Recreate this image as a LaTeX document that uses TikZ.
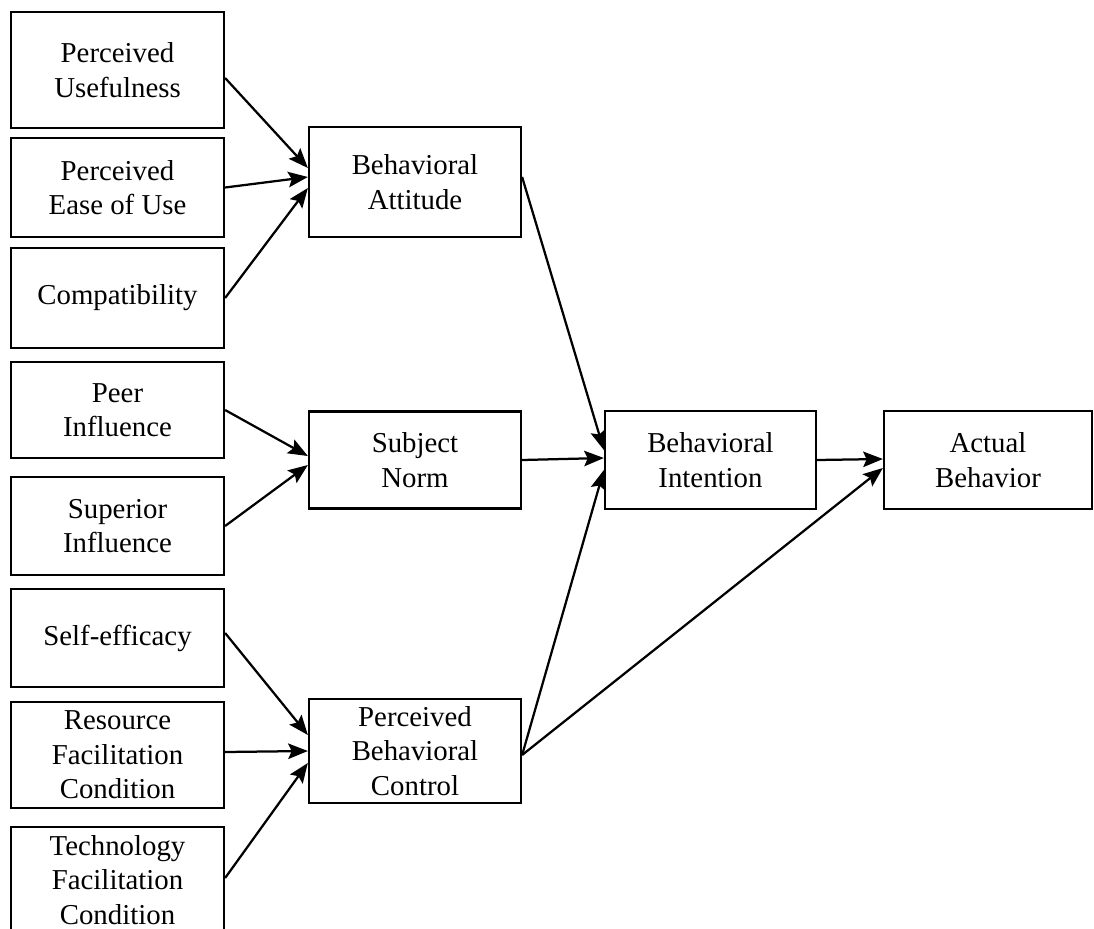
\documentclass[tikz,border=0pt]{standalone}
\usepackage{fontspec}
\setmainfont{Liberation Serif}
\usetikzlibrary{arrows.meta,calc}

\begin{document}
\begin{tikzpicture}[
    x=0.025cm, y=-0.025cm,
    box/.style 2 args={draw=black, line width=1.6pt, fill=white, inner sep=0pt,
      align=center, font=\fontsize{20.5}{24.5}\selectfont,
      minimum width={#1*0.025cm}, minimum height={#2*0.025cm}},
    conn/.style={line width=1.6pt, draw=black,
      -{Stealth[length=14pt,width=11pt,inset=2.5pt]}}
  ]
  \clip (0,0) rectangle (1094,929);
  \fill[white] (0,0) rectangle (1094,929);

  % antecedent factors (left column)
  \node[box={213}{116}] (pu)   at (117.5,70)  {Perceived\\Usefulness};
  \node[box={213}{99}]  (peou) at (117.5,187.5) {Perceived\\Ease of Use};
  \node[box={213}{100}] (comp) at (117.5,298) {Compatibility};
  \node[box={213}{96}]  (peer) at (117.5,410) {Peer\\Influence};
  \node[box={213}{98}]  (sup)  at (117.5,526) {Superior\\Influence};
  \node[box={213}{98}]  (self) at (117.5,638) {Self-efficacy};
  \node[box={213}{106}] (res)  at (117.5,755) {Resource\\Facilitation\\Condition};
  \node[box={213}{106}] (tech) at (117.5,880) {Technology\\Facilitation\\Condition};

  % belief constructs (middle column)
  \node[box={212}{110}] (ba)  at (415,182) {Behavioral\\Attitude};
  \node[box={212}{97}]  (sn)  at (415,460) {Subject\\Norm};
  \node[box={212}{104}] (pbc) at (415,751) {Perceived\\Behavioral\\Control};

  % intention and behaviour
  \node[box={211}{98}] (bi) at (710.5,460) {Behavioral\\Intention};
  \node[box={208}{98}] (ab) at (988,460)   {Actual\\Behavior};

  % paths into Behavioral Attitude
  \draw[conn] ($(pu.east)+(0,8)$)  -- ($(ba.west)+(0,-14)$);
  \draw[conn] (peou.east)          -- ($(ba.west)+(0,-5)$);
  \draw[conn] (comp.east)          -- ($(ba.west)+(0,6)$);

  % paths into Subject Norm
  \draw[conn] (peer.east) -- ($(sn.west)+(0,-4)$);
  \draw[conn] (sup.east)  -- ($(sn.west)+(0,5)$);

  % paths into Perceived Behavioral Control
  \draw[conn] ($(self.east)+(0,-5)$) -- ($(pbc.west)+(0,-16)$);
  \draw[conn] ($(res.east)+(0,-3)$)  -- (pbc.west);
  \draw[conn] ($(tech.east)+(0,-2)$) -- ($(pbc.west)+(0,12)$);

  % paths into Behavioral Intention
  \draw[conn] ($(ba.east)+(0,-5)$) -- ($(bi.west)+(0,-10)$);
  \draw[conn] (sn.east)            -- ($(bi.west)+(0,-2)$);
  \draw[conn] ($(pbc.east)+(0,4)$) -- ($(bi.west)+(0,10)$);

  % paths into Actual Behavior
  \draw[conn] (bi.east)            -- ($(ab.west)+(0,-1)$);
  \draw[conn] ($(pbc.east)+(0,4)$) -- ($(ab.west)+(0,8)$);
\end{tikzpicture}
\end{document}
